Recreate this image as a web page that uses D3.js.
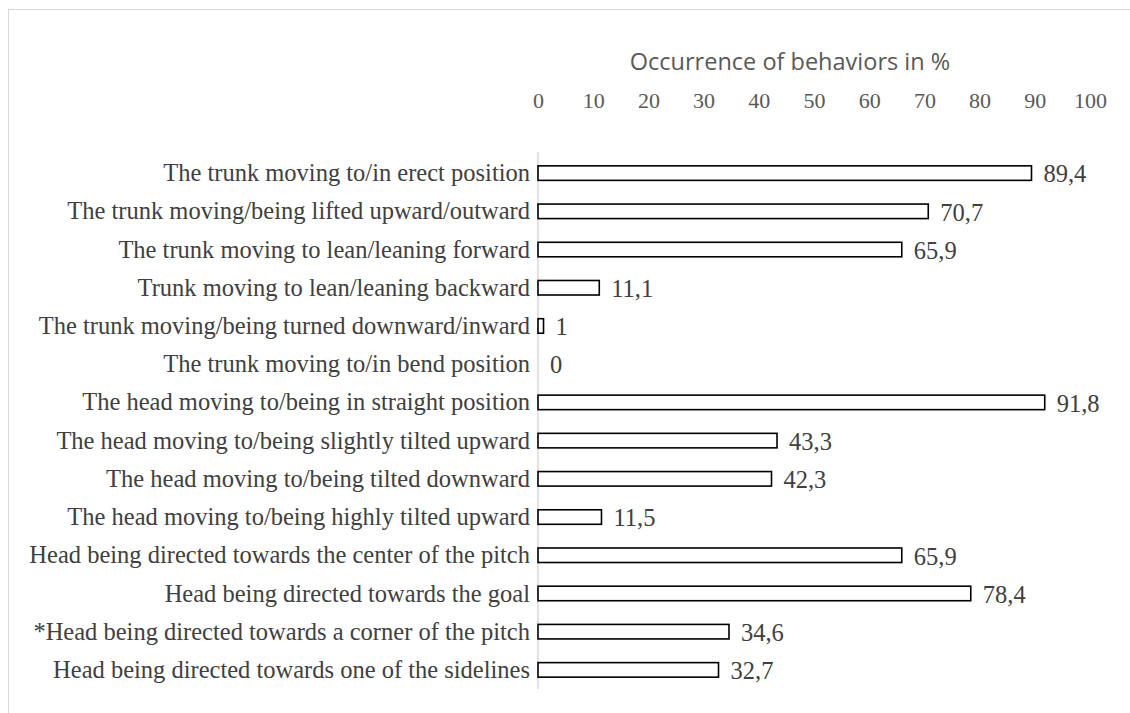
<!DOCTYPE html>
<html>
<head>
<meta charset="utf-8">
<script src="https://cdn.jsdelivr.net/npm/d3@7"></script>
<style>
  body { margin: 0; background: #fff; }
  svg { display: block; }
</style>
</head>
<body>
<svg id="chart" width="1130" height="713"></svg>
<script>
'use strict';

let behaviors = [
    "The trunk moving to/in erect position",
    "The trunk moving/being lifted upward/outward",
    "The trunk moving to lean/leaning forward",
    "Trunk moving to lean/leaning backward",
    "The trunk moving/being turned downward/inward",
    "The trunk moving to/in bend position",
    "The head moving to/being in straight position",
    "The head moving to/being slightly tilted upward",
    "The head moving to/being tilted downward",
    "The head moving to/being highly tilted upward",
    "Head being directed towards the center of the pitch",
    "Head being directed towards the goal",
    "*Head being directed towards a corner of the pitch",
    "Head being directed towards one of the sidelines"
];
let occurrence = [89.4, 70.7, 65.9, 11.1, 1, 0, 91.8, 43.3, 42.3, 11.5, 65.9, 78.4, 34.6, 32.7];
let tickValues = [0, 10, 20, 30, 40, 50, 60, 70, 80, 90, 100];

let svg = d3.select("#chart");

// chart area border (runs off the right/bottom edge)
svg.append("rect")
    .attr("x", 8.5).attr("y", 9.5)
    .attr("width", 1140).attr("height", 720)
    .attr("fill", "none")
    .attr("stroke", "#d9d9d9")
    .attr("stroke-width", 1);

let x = d3.scaleLinear().domain([0, 100]).range([538, 1090]);
let y = d3.scaleBand().domain(behaviors).range([154, 689]).paddingInner(0.62).paddingOuter(0.31);

let fmt = function(v) { return String(v).replace(".", ","); };

// top axis: labels only
let axis = d3.axisTop(x).tickValues(tickValues).tickSize(0).tickPadding(0);
let gx = svg.append("g").attr("transform", "translate(0,108)").call(axis);
gx.select(".domain").remove();
gx.selectAll("text")
    .attr("font-family", "'Liberation Serif', 'Times New Roman', serif")
    .attr("font-size", 22)
    .attr("fill", "#595959")
    .attr("dy", 0);

svg.append("text")
    .attr("x", 790).attr("y", 70)
    .attr("text-anchor", "middle")
    .attr("font-family", "'Open Sans', Carlito, sans-serif")
    .attr("font-size", 23.5)
    .attr("fill", "#595959")
    .text("Occurrence of behaviors in %");

// vertical category axis line
svg.append("line")
    .attr("x1", x(0)).attr("x2", x(0))
    .attr("y1", 152).attr("y2", 689)
    .attr("stroke", "#d9d9d9")
    .attr("stroke-width", 1.5);

// category labels
svg.append("g").selectAll("text")
    .data(behaviors)
    .enter().append("text")
    .attr("x", 530)
    .attr("y", function(d) { return y(d) + y.bandwidth() / 2; })
    .attr("dy", "0.33em")
    .attr("text-anchor", "end")
    .attr("font-family", "'Liberation Serif', 'Times New Roman', serif")
    .attr("font-size", 24.5)
    .attr("fill", "#404040")
    .text(function(d) { return d; });

// bars
svg.append("g").selectAll("rect")
    .data(occurrence)
    .enter().append("rect")
    .attr("x", x(0))
    .attr("y", function(d, i) { return y(behaviors[i]); })
    .attr("width", function(d) { return x(d) - x(0); })
    .attr("height", y.bandwidth())
    .attr("fill", "#fff")
    .attr("stroke", function(d) { return d > 0 ? "#000" : "none"; })
    .attr("stroke-width", 1.6);

// value labels
svg.append("g").selectAll("text")
    .data(occurrence)
    .enter().append("text")
    .attr("x", function(d) { return x(d) + 12; })
    .attr("y", function(d, i) { return y(behaviors[i]) + y.bandwidth() / 2; })
    .attr("dy", "0.38em")
    .attr("font-family", "'Liberation Serif', 'Times New Roman', serif")
    .attr("font-size", 24.5)
    .attr("fill", "#404040")
    .text(function(d) { return fmt(d); });
</script>
</body>
</html>
